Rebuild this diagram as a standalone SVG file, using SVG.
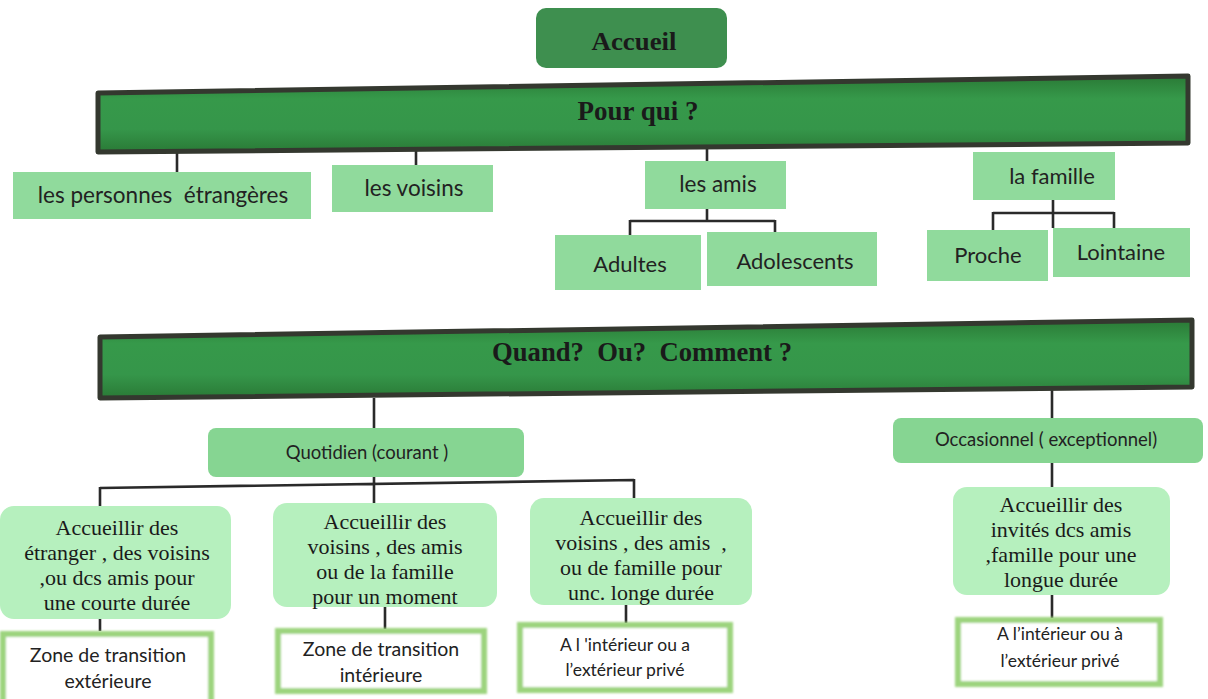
<svg xmlns="http://www.w3.org/2000/svg" width="1208" height="699" viewBox="0 0 1208 699">
<defs>
<filter id="soft" x="-5%" y="-10%" width="110%" height="120%"><feGaussianBlur stdDeviation="1.2"/></filter>
<linearGradient id="barg" x1="0" y1="0" x2="0" y2="1">
<stop offset="0" stop-color="#2a7a36"/><stop offset="0.3" stop-color="#36994a"/><stop offset="0.7" stop-color="#35964a"/><stop offset="1" stop-color="#2a7a36"/>
</linearGradient>
</defs>
<style>
.bar{fill:url(#barg);stroke:#34382f;stroke-width:5;stroke-linejoin:round}
.top{fill:#3e8f4f}
.b1{fill:#90da9c}
.b2{fill:#86d592}
.b3{fill:#b6f0be}
.glow{fill:#ffffff;stroke:#9dd47e;stroke-width:6}
.ser{font-family:"Liberation Serif","Times New Roman",serif;fill:#1a1a1a;text-anchor:middle}
.bold{font-weight:bold}
.san{font-family:Lato,"Liberation Sans",sans-serif;fill:#222222;text-anchor:middle}
.ln{stroke:#2a2a2a;stroke-width:2.6;fill:none}
</style>
<rect width="1208" height="699" fill="#ffffff"/>

<g id="connectors">
<path class="ln" d="M177 152V173M416 150V166M707 146V162"/>
<path class="ln" d="M707 209V221M630 221H775M630 220V236M775 220V233"/>
<path class="ln" d="M1053 200V228M993 213H1114M993 212V231M1114 212V229"/>
<path class="ln" d="M374 398V429M1052 388V419"/>
<path class="ln" d="M374 477V507M100 488L634 480M100 487V510M634 479V500"/>
<path class="ln" d="M1052 463V488"/>
<path class="ln" d="M100 618V631M385 607V629M626 605V623M1052 595V618"/>
</g>

<g id="accueil">
<rect class="top" x="536" y="8" width="191" height="60" rx="10"/>
<text class="ser bold" x="634" y="50" font-size="26" textLength="85" lengthAdjust="spacingAndGlyphs">Accueil</text>
</g>

<g id="pourqui">
<polygon class="bar" points="98,93 1188,76 1188,143 98,152"/>
<text class="ser bold" x="638" y="120" font-size="27">Pour qui ?</text>
</g>

<g id="etrangeres"><rect class="b1" x="13" y="172" width="298" height="47"/><text class="san" x="163" y="203" font-size="22.5" xml:space="preserve">les personnes  étrangères</text></g>
<g id="voisins"><rect class="b1" x="332" y="165" width="161" height="47"/><text class="san" x="414" y="196" font-size="22.5">les voisins</text></g>
<g id="amis"><rect class="b1" x="645" y="161" width="141" height="48"/><text class="san" x="718" y="192" font-size="22.5">les amis</text></g>
<g id="famille"><rect class="b1" x="973" y="152" width="142" height="48"/><text class="san" x="1052" y="184" font-size="22">la famille</text></g>
<g id="adultes"><rect class="b1" x="555" y="235" width="146" height="55"/><text class="san" x="630" y="272" font-size="22">Adultes</text></g>
<g id="adolescents"><rect class="b1" x="707" y="232" width="170" height="54"/><text class="san" x="795" y="269" font-size="22">Adolescents</text></g>
<g id="proche"><rect class="b1" x="927" y="230" width="121" height="51"/><text class="san" x="988" y="263" font-size="22">Proche</text></g>
<g id="lointaine"><rect class="b1" x="1053" y="228" width="137" height="49"/><text class="san" x="1121" y="260" font-size="22">Lointaine</text></g>

<g id="quand">
<polygon class="bar" points="100,337 1192,320 1192,387 100,398"/>
<text class="ser bold" x="642" y="361" font-size="27" textLength="300" lengthAdjust="spacingAndGlyphs" xml:space="preserve">Quand?  Ou?  Comment ?</text>
</g>

<g id="quotidien"><rect class="b2" x="208" y="428" width="316" height="49" rx="8"/><text class="san" x="367" y="459" font-size="18.5">Quotidien (courant )</text></g>
<g id="occasionnel"><rect class="b2" x="893" y="418" width="310" height="45" rx="8"/><text class="san" x="1046" y="446" font-size="18.5">Occasionnel ( exceptionnel)</text></g>

<g id="courte">
<rect class="b3" x="0" y="506" width="231" height="113" rx="14"/>
<text class="ser" font-size="22"><tspan x="117" y="535">Accueillir des</tspan><tspan x="117" y="560">étranger , des voisins</tspan><tspan x="117" y="585">,ou dcs amis pour</tspan><tspan x="117" y="610">une courte durée</tspan></text>
</g>
<g id="moment">
<rect class="b3" x="273" y="503" width="224" height="104" rx="14"/>
<text class="ser" font-size="22"><tspan x="385" y="529">Accueillir des</tspan><tspan x="385" y="554">voisins , des amis</tspan><tspan x="385" y="579">ou de la famille</tspan><tspan x="385" y="604">pour un moment</tspan></text>
</g>
<g id="longe">
<rect class="b3" x="530" y="498" width="222" height="107" rx="14"/>
<text class="ser" font-size="22"><tspan x="641" y="525">Accueillir des</tspan><tspan x="641" y="550" xml:space="preserve">voisins , des amis  ,</tspan><tspan x="641" y="575">ou de famille pour</tspan><tspan x="641" y="600">unc. longe durée</tspan></text>
</g>
<g id="longue">
<rect class="b3" x="953" y="487" width="217" height="108" rx="14"/>
<text class="ser" font-size="22"><tspan x="1061" y="512">Accueillir des</tspan><tspan x="1061" y="537">invités dcs amis</tspan><tspan x="1061" y="562">,famille pour une</tspan><tspan x="1061" y="587">longue durée</tspan></text>
</g>

<g id="ext">
<rect class="glow" x="3" y="634" width="208" height="70" filter="url(#soft)"/>
<text class="san" font-size="19.5"><tspan x="108" y="662">Zone de transition</tspan><tspan x="108" y="688">extérieure</tspan></text>
</g>
<g id="int">
<rect class="glow" x="278" y="631" width="206" height="60" filter="url(#soft)"/>
<text class="san" font-size="19.5"><tspan x="381" y="656">Zone de transition</tspan><tspan x="381" y="682">intérieure</tspan></text>
</g>
<g id="prive1">
<rect class="glow" x="520" y="625" width="210" height="65" filter="url(#soft)"/>
<text class="san" font-size="17.5"><tspan x="625" y="651">A l 'intérieur ou a</tspan><tspan x="625" y="676">l’extérieur privé</tspan></text>
</g>
<g id="prive2">
<rect class="glow" x="958" y="620" width="202" height="64" filter="url(#soft)"/>
<text class="san" font-size="17.5"><tspan x="1060" y="640">A l’intérieur ou à</tspan><tspan x="1060" y="667">l’extérieur privé</tspan></text>
</g>
</svg>
